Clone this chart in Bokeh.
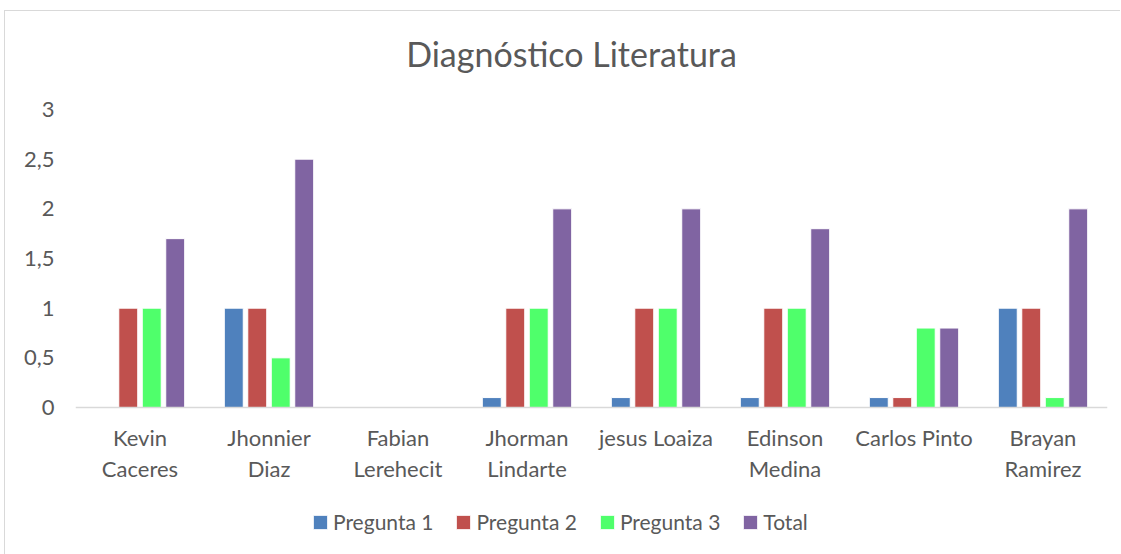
from bokeh.plotting import figure
from bokeh.models import (ColumnDataSource, FactorRange, Range1d, FixedTicker,
                          Legend, LegendItem, Label)
from bokeh.transform import dodge
from bokeh.embed import file_html
from bokeh.resources import INLINE

names = ["Kevin\nCaceres", "Jhonnier\nDiaz", "Fabian\nLerehecit", "Jhorman\nLindarte",
         "jesus Loaiza", "Edinson\nMedina", "Carlos Pinto", "Brayan\nRamirez"]
pregunta1 = [0, 1, 0, 0.1, 0.1, 0.1, 0.1, 1]
pregunta2 = [1, 1, 0, 1, 1, 1, 0.1, 1]
pregunta3 = [1, 0.5, 0, 1, 1, 1, 0.8, 0.1]
total = [1.7, 2.5, 0, 2, 2, 1.8, 0.8, 2]
series = ["Pregunta 1", "Pregunta 2", "Pregunta 3", "Total"]
colors = ["#4F81BD", "#C0504D", "#4FFF6B", "#8064A2"]
y_ticks = [0, 0.5, 1, 1.5, 2, 2.5, 3]
y_tick_labels = ["0", "0,5", "1", "1,5", "2", "2,5", "3"]
chart_title = "Diagnóstico Literatura"

FONT = "Lato"
TXT = "#595959"

# layout geometry (pixels)
PX_PER_UNIT = 298 / 3.0
TOP_PAD = 98      # space above y=3 (title area)
BOTTOM_PAD = 150  # space below y=0 (category labels + legend)

src = ColumnDataSource(dict(name=names, p1=pregunta1, p2=pregunta2, p3=pregunta3, tot=total))

y_max = y_ticks[-1] + TOP_PAD / PX_PER_UNIT
y_min = -BOTTOM_PAD / PX_PER_UNIT
p = figure(x_range=FactorRange(*names), y_range=Range1d(y_min, y_max),
           frame_width=1032, frame_height=TOP_PAD + 298 + BOTTOM_PAD,
           output_backend="svg", toolbar_location=None,
           min_border_left=70, min_border_right=14, min_border_top=0, min_border_bottom=0)
p.styles = {"position": "relative", "left": "5px", "top": "11px",
            "box-shadow": "-1px -1px 0 0 #d9d9d9"}
p.outline_line_color = None
p.xgrid.grid_line_color = None
p.ygrid.grid_line_color = None

offsets = [-0.273, -0.091, 0.091, 0.273]
cols = ["p1", "p2", "p3", "tot"]
renderers = []
for off, c, col in zip(offsets, colors, cols):
    r = p.vbar(x=dodge("name", off, range=p.x_range), top=col, bottom=0, width=0.147,
               source=src, fill_color=c, line_color="white", line_width=1)
    renderers.append(r)

# axes
p.yaxis.ticker = FixedTicker(ticks=y_ticks)
p.yaxis.major_label_overrides = {t: l for t, l in zip(y_ticks, y_tick_labels)}
p.yaxis.axis_line_color = None
p.yaxis.major_tick_line_color = None
p.yaxis.minor_tick_line_color = None
p.yaxis.major_label_standoff = 15
p.yaxis.major_label_text_font = FONT
p.yaxis.major_label_text_font_size = "22px"
p.yaxis.major_label_text_color = TXT

p.xaxis.fixed_location = 0
p.xaxis.axis_line_color = "#d9d9d9"
p.xaxis.axis_line_width = 1.5
p.xaxis.major_tick_line_color = None
p.xaxis.minor_tick_line_color = None
p.xaxis.major_label_standoff = 10
p.xaxis.major_label_text_font = FONT
p.xaxis.major_label_text_font_size = "22px"
p.xaxis.major_label_text_color = TXT
p.xaxis.major_label_text_line_height = 1.17

# title
title = Label(x=3.845, y=3 + 56 / PX_PER_UNIT, text=chart_title,
              text_align="center", text_baseline="middle", text_font=FONT,
              text_font_size="34px", text_color=TXT)
p.add_layout(title)

items = [LegendItem(label=s, renderers=[r]) for s, r in zip(series, renderers)]
legend = Legend(items=items, orientation="horizontal", location=(236, 23),
                glyph_width=18, glyph_height=18, spacing=21, label_standoff=4,
                label_text_font=FONT, label_text_font_size="21px", label_text_color=TXT,
                border_line_color=None, background_fill_alpha=0, padding=0, margin=0)
p.add_layout(legend, "center")

open("out.html", "w").write(file_html(p, INLINE))
